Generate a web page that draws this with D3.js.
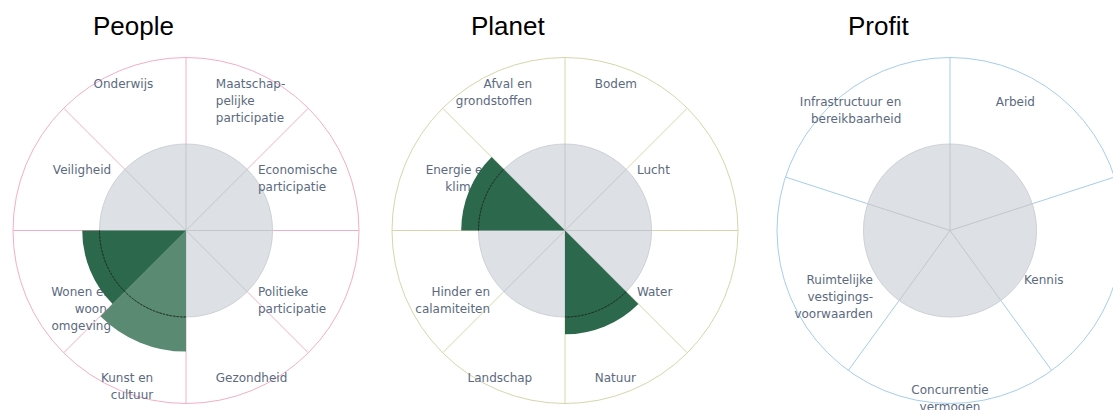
<!DOCTYPE html>
<html>
<head>
  <meta charset="utf-8">
  <title>People Planet Profit</title>
  <script src="https://d3js.org/d3.v7.min.js"></script>
  <style>
    body { margin: 0; background: #fff; }
    .title { font-family: "Liberation Sans", Arial, sans-serif; font-size: 26px; fill: #000; }
    .label { font-family: "DejaVu Sans", sans-serif; font-size: 12px; fill: #5b6a80; }
  </style>
</head>
<body>
<script>
// categorieen per thema, met regelafbrekingen ("|")
var peopleCategories = ['Maatschap-|pelijke|participatie', 'Economische|participatie', 'Politieke|participatie',
  'Gezondheid', 'Kunst en|cultuur', 'Wonen en|woon-|omgeving', 'Veiligheid', 'Onderwijs'];
var peopleValues = [null, null, null, null, 1.4, 1.2, null, null];
var peopleEstimate = [false, false, false, false, true, false, false, false];

var planetCategories = ['Bodem', 'Lucht', 'Water', 'Natuur', 'Landschap',
  'Hinder en|calamiteiten', 'Energie en|klimaat', 'Afval en|grondstoffen'];
var planetValues = [null, null, null, 1.2, null, null, 1.2, null];
var planetEstimate = [false, false, false, false, false, false, false, false];

var profitCategories = ['Arbeid', 'Kennis', 'Concurrentie|vermogen',
  'Ruimtelijke|vestigings-|voorwaarden', 'Infrastructuur en|bereikbaarheid'];
var profitValues = [null, null, null, null, null];
var profitEstimate = [false, false, false, false, false];

var titles = ['People', 'Planet', 'Profit'];

var W = 1113, H = 410;
var R = 173;

var svg = d3.select('body').append('svg')
  .attr('width', W)
  .attr('height', H);

function drawChart(opt) {
  var cx = opt.cx, cy = opt.cy;
  var n = opt.categories.length;
  var step = 2 * Math.PI / n;

  // schaal: 0..2 -> straal, referentiewaarde 1 = grijze cirkel
  var r = d3.scaleLinear().domain([0, 2]).range([0, R]);
  var ref = r(1);

  var g = svg.append('g').attr('transform', 'translate(' + cx + ',' + cy + ')');

  svg.append('text')
    .attr('class', 'title')
    .attr('x', opt.titleX)
    .attr('y', 35)
    .text(opt.title);

  g.append('circle')
    .attr('r', R)
    .attr('fill', 'none')
    .attr('stroke', opt.color)
    .attr('stroke-width', 1);

  var angles = d3.range(n).map(function(i) { return i * step; });

  g.selectAll('.spoke')
    .data(angles)
    .enter().append('line')
    .attr('x1', function(a) { return ref * Math.sin(a); })
    .attr('y1', function(a) { return -ref * Math.cos(a); })
    .attr('x2', function(a) { return R * Math.sin(a); })
    .attr('y2', function(a) { return -R * Math.cos(a); })
    .attr('stroke', opt.color)
    .attr('stroke-width', 1);

  g.append('circle')
    .attr('r', ref)
    .attr('fill', '#dde1e5')
    .attr('stroke', '#cdd1d5')
    .attr('stroke-width', 1);

  g.selectAll('.inner')
    .data(angles)
    .enter().append('line')
    .attr('x1', 0).attr('y1', 0)
    .attr('x2', function(a) { return ref * Math.sin(a); })
    .attr('y2', function(a) { return -ref * Math.cos(a); })
    .attr('stroke', '#c3c6ca')
    .attr('stroke-width', 1);

  // labels
  opt.categories.forEach(function(c, i) {
    var mid = (i + 0.5) * step;
    var s = Math.sin(mid), co = Math.cos(mid);
    var anchor = s > 0.01 ? 'start' : (s < -0.01 ? 'end' : 'middle');
    var x = 0.45 * R * s + (s < -0.01 ? -3 : 0);
    var y = -0.92 * R * co;
    var t = g.append('text')
      .attr('class', 'label')
      .attr('text-anchor', anchor)
      .attr('x', x)
      .attr('y', y);
    c.split('|').forEach(function(line, k) {
      t.append('tspan')
        .attr('x', x)
        .attr('y', y + k * 17)
        .attr('dy', '0.35em')
        .text(line);
    });
  });

  // waarden
  var arc = d3.arc().innerRadius(0);
  var data = opt.values.map(function(v, i) {
    return { v: v, i: i, est: opt.estimate[i] };
  }).filter(function(d) { return d.v != null; });

  g.selectAll('.wedge')
    .data(data)
    .enter().append('path')
    .attr('d', function(d) {
      return arc({ startAngle: d.i * step, endAngle: (d.i + 1) * step, outerRadius: r(d.v) });
    })
    .attr('fill', function(d) { return d.est ? '#5a8a71' : '#2c684b'; });

  var dotted = d3.arc().innerRadius(ref).outerRadius(ref);
  g.selectAll('.ref')
    .data(data)
    .enter().append('path')
    .attr('d', function(d) {
      return dotted({ startAngle: d.i * step, endAngle: (d.i + 1) * step });
    })
    .attr('fill', 'none')
    .attr('stroke', '#1c2b24')
    .attr('stroke-width', 1)
    .attr('stroke-dasharray', '1.5,2');
}

drawChart({ cx: 186, cy: 230.5, title: titles[0], titleX: 93, color: '#f3aec6',
  categories: peopleCategories, values: peopleValues, estimate: peopleEstimate });
drawChart({ cx: 565, cy: 230.5, title: titles[1], titleX: 471, color: '#d6d6ac',
  categories: planetCategories, values: planetValues, estimate: planetEstimate });
drawChart({ cx: 950, cy: 230.5, title: titles[2], titleX: 848, color: '#a6cdea',
  categories: profitCategories, values: profitValues, estimate: profitEstimate });
</script>
</body>
</html>
